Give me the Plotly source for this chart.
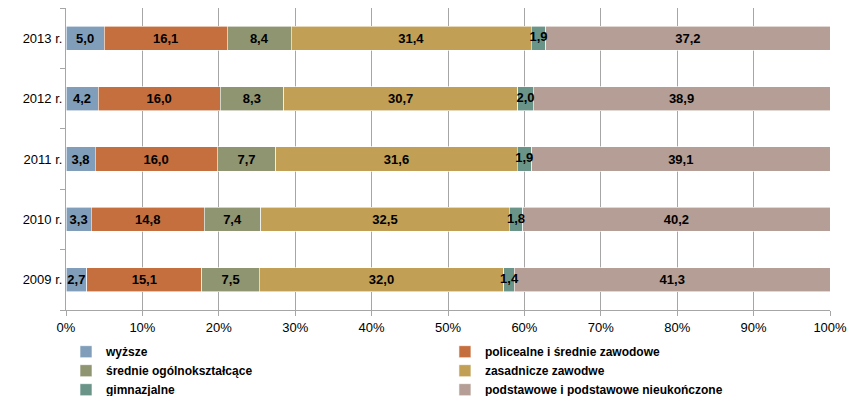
import plotly.graph_objects as go

years = ["2009 r.", "2010 r.", "2011 r.", "2012 r.", "2013 r."]

wyzsze = [2.7, 3.3, 3.8, 4.2, 5.0]
policealne = [15.1, 14.8, 16.0, 16.0, 16.1]
srednie = [7.5, 7.4, 7.7, 8.3, 8.4]
zasadnicze = [32.0, 32.5, 31.6, 30.7, 31.4]
gimnazjalne = [1.4, 1.8, 1.9, 2.0, 1.9]
podstawowe = [41.3, 40.2, 39.1, 38.9, 37.2]

# name, values, colour, legend column
SERIES = [
    ("wyższe", wyzsze, "#809EBA", "legend"),
    ("policealne i średnie zawodowe", policealne, "#C66F3E", "legend2"),
    ("średnie ogólnokształcące", srednie, "#8F9571", "legend"),
    ("zasadnicze zawodwe", zasadnicze, "#C19F54", "legend2"),
    ("gimnazjalne", gimnazjalne, "#6A9488", "legend"),
    ("podstawowe i podstawowe nieukończone", podstawowe, "#B59E95", "legend2"),
]

label_font = {"family": "Liberation Sans, Arial", "size": 13, "color": "black", "weight": "bold"}


def fmt(v):
    return f"{v:.1f}".replace(".", ",")


fig = go.Figure()
for name, vals, color, leg in SERIES:
    narrow = vals is gimnazjalne
    fig.add_trace(go.Bar(
        y=years,
        x=vals,
        name=name,
        legend=leg,
        orientation="h",
        marker={"color": color, "line": {"color": "white", "width": 0.6}},
        text=None if narrow else [fmt(v) for v in vals],
        textposition="inside",
        insidetextanchor="middle",
        textangle=0,
        constraintext="none",
        textfont=label_font,
        cliponaxis=False,
    ))

# narrow gimnazjalne labels overlap neighbouring segments, so draw them on top
totals = [sum(s[1][i] for s in SERIES) for i in range(len(years))]
before = [wyzsze[i] + policealne[i] + srednie[i] + zasadnicze[i] for i in range(len(years))]
mid_pct = [(before[i] + gimnazjalne[i] / 2) / totals[i] * 100 for i in range(len(years))]
fig.add_trace(go.Scatter(
    x=mid_pct,
    y=years,
    mode="text",
    text=[fmt(v) for v in gimnazjalne],
    textfont=label_font,
    showlegend=False,
    hoverinfo="skip",
    cliponaxis=False,
))

legend_font = {"family": "Liberation Sans Narrow, Arial Narrow, Liberation Sans", "size": 12, "weight": "bold"}
common_legend = {
    "orientation": "v",
    "xanchor": "left",
    "y": -0.09,
    "yanchor": "top",
    "font": legend_font,
    "itemwidth": 30,
    "tracegroupgap": 0,
    "traceorder": "normal",
    "bgcolor": "rgba(0,0,0,0)",
}

fig.update_layout(
    barmode="stack",
    barnorm="percent",
    bargap=0.6,
    width=850,
    height=396,
    margin={"l": 66, "r": 20, "t": 8, "b": 86, "autoexpand": False},
    plot_bgcolor="white",
    paper_bgcolor="white",
    font={"family": "Liberation Sans, Arial", "size": 13, "color": "black"},
    xaxis={
        "range": [0, 100],
        "tickvals": list(range(0, 101, 10)),
        "ticktext": [f"{v}%" for v in range(0, 101, 10)],
        "showgrid": True,
        "gridcolor": "#A6A6A6",
        "gridwidth": 1,
        "showline": True,
        "linecolor": "#A6A6A6",
        "ticks": "outside",
        "ticklen": 5,
        "tickcolor": "#A6A6A6",
        "zeroline": False,
        "tickfont": {"size": 13},
    },
    yaxis={
        "categoryorder": "array",
        "categoryarray": years,
        "showline": True,
        "linecolor": "#A6A6A6",
        "linewidth": 1,
        "ticks": "outside",
        "tickson": "boundaries",
        "ticklen": 5,
        "tickcolor": "#A6A6A6",
        "showgrid": False,
        "tickfont": {"size": 13},
    },
    legend={**common_legend, "x": 0.0},
    legend2={**common_legend, "x": 0.496},
)

fig.write_html(
    "out.html",
    config={"displayModeBar": False},
    post_script="document.body.style.margin='0';",
)
